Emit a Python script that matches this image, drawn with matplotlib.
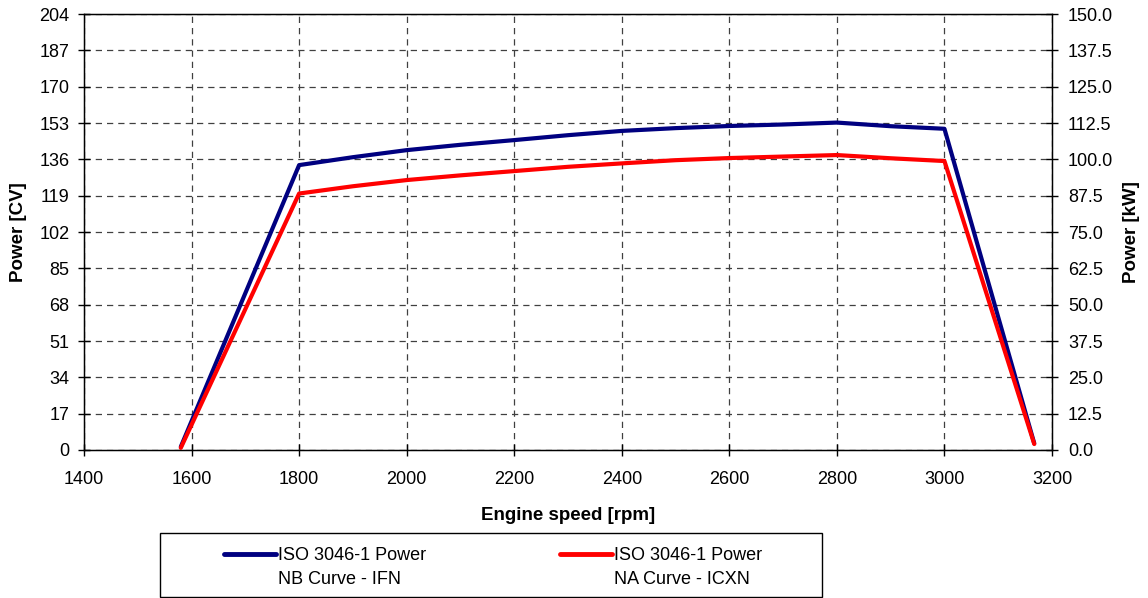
import numpy as np
import matplotlib
matplotlib.use("Agg")
import matplotlib.pyplot as plt
from matplotlib.ticker import FormatStrFormatter
from matplotlib.patches import Rectangle
from matplotlib.lines import Line2D

plt.rcParams['font.family'] = ['Liberation Sans', 'DejaVu Sans']

# engine speed [rpm]
rpm = [1580, 1800, 1900, 2000, 2100, 2200, 2300, 2400, 2500, 2600, 2700, 2800, 2900, 3000, 3167]
# ISO 3046-1 power, NB curve - IFN [CV]
power_nb = [1.5, 133.3, 137.0, 140.3, 142.8, 145.0, 147.3, 149.3, 150.6, 151.6, 152.3, 153.2, 151.5, 150.3, 3.1]
# ISO 3046-1 power, NA curve - ICXN [CV]
power_na = [1.0, 120.0, 123.4, 126.3, 128.5, 130.5, 132.5, 134.1, 135.6, 136.6, 137.3, 138.0, 136.5, 135.2, 2.8]

labels = ["ISO 3046-1 Power\nNB Curve - IFN", "ISO 3046-1 Power\nNA Curve - ICXN"]
cv_ticks = np.arange(0, 205, 17)
kw_ticks = np.arange(0, 150.1, 12.5)

W, H = 1148, 598
fig = plt.figure(figsize=(W / 100, H / 100), dpi=100)
ax = fig.add_axes([84 / W, 1 - 450 / H, 968 / W, 436 / H])

l1, = ax.plot(rpm, power_nb, color='#000080', lw=3, solid_capstyle='round', zorder=3)
l2, = ax.plot(rpm, power_na, color='#ff0000', lw=3, solid_capstyle='round', zorder=3)

ax.set_xlim(1400, 3200)
ax.set_xticks(np.arange(1400, 3201, 200))
ax.set_ylim(0, 204)
ax.set_yticks(cv_ticks)
ax.grid(True, color='#404040', ls=(0, (5, 4)), lw=0.9)
ax.tick_params(direction='inout', length=9, labelsize=13, width=1)
ax.tick_params(axis='x', pad=10.5)
ax.tick_params(axis='y', pad=6)
ax.set_xlabel("Engine speed [rpm]", fontsize=13.5, fontweight='bold', labelpad=14)
ax.set_ylabel("Power [CV]", fontsize=13.5, fontweight='bold', labelpad=9)
for s in ax.spines.values():
    s.set_linewidth(1)

ax2 = ax.twinx()
ax2.set_ylim(0, 150)
ax2.set_yticks(kw_ticks)
ax2.yaxis.set_major_formatter(FormatStrFormatter('%.1f'))
ax2.tick_params(direction='inout', length=9, labelsize=13, width=1, pad=7)
ax2.set_ylabel("Power [kW]", fontsize=13.5, fontweight='bold', labelpad=7)

# legend box drawn by hand so the handle sits on the first text line
fig.add_artist(Rectangle((160 / W, 1 - 597 / H), 662 / W, 64 / H, transform=fig.transFigure,
                         facecolor='white', edgecolor='black', lw=1))
for line, label, x0 in zip([l1, l2], labels, [224, 560]):
    fig.add_artist(Line2D([x0 / W, (x0 + 52) / W], [1 - 554 / H] * 2, transform=fig.transFigure,
                          color=line.get_color(), lw=3.5, solid_capstyle='round'))
    fig.text((x0 + 54) / W, 1 - 547 / H, label, fontsize=13, va='top', ha='left',
             linespacing=1.5)

fig.savefig("out.png", dpi=100)
